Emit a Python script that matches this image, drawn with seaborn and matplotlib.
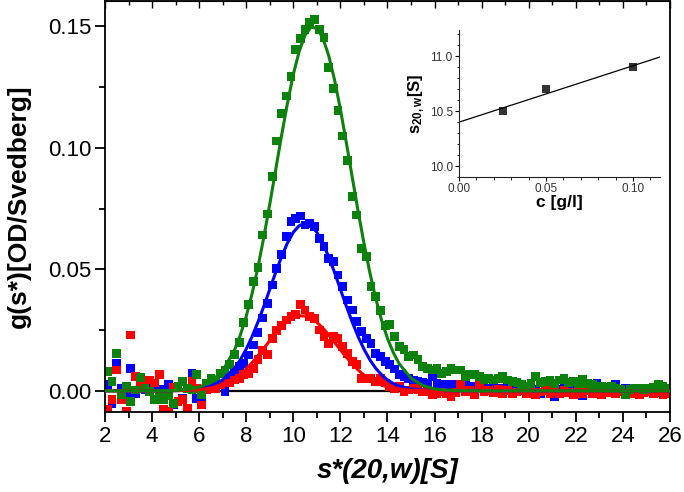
import numpy as np
import pandas as pd
import matplotlib
matplotlib.use("Agg")
import matplotlib.pyplot as plt
from matplotlib.ticker import MultipleLocator, AutoMinorLocator, FormatStrFormatter
import seaborn as sns

# s* grid of the measured g(s*) points
s_grid = [
    2.1, 2.3, 2.5, 2.7, 2.9, 3.1, 3.3, 3.5, 3.7, 3.9,
    4.1, 4.3, 4.5, 4.7, 4.9, 5.1, 5.3, 5.5, 5.7, 5.9,
    6.1, 6.3, 6.5, 6.7, 6.9, 7.1, 7.3, 7.5, 7.7, 7.9,
    8.1, 8.3, 8.5, 8.7, 8.9, 9.1, 9.3, 9.5, 9.7, 9.9,
    10.1, 10.3, 10.5, 10.7, 10.9, 11.1, 11.3, 11.5, 11.7, 11.9,
    12.1, 12.3, 12.5, 12.7, 12.9, 13.1, 13.3, 13.5, 13.7, 13.9,
    14.1, 14.3, 14.5, 14.7, 14.9, 15.1, 15.3, 15.5, 15.7, 15.9,
    16.1, 16.3, 16.5, 16.7, 16.9, 17.1, 17.3, 17.5, 17.7, 17.9,
    18.1, 18.3, 18.5, 18.7, 18.9, 19.1, 19.3, 19.5, 19.7, 19.9,
    20.1, 20.3, 20.5, 20.7, 20.9, 21.1, 21.3, 21.5, 21.7, 21.9,
    22.1, 22.3, 22.5, 22.7, 22.9, 23.1, 23.3, 23.5, 23.7, 23.9,
    24.1, 24.3, 24.5, 24.7, 24.9, 25.1, 25.3, 25.5, 25.7, 25.9,
]

g_green = [
    0.0079, 0.0040, 0.0155, -0.0016, 0.0020, -0.0044, 0.0004, 0.0056, 0.0012, -0.0003,
    -0.0037, -0.0012, -0.0037, -0.0020, -0.0051, 0.0018, 0.0038, 0.0010, 0.0004, 0.0066,
    -0.0016, 0.0030, 0.0052, 0.0045, 0.0070, 0.0086, 0.0107, 0.0150, 0.0200, 0.0280,
    0.0354, 0.0450, 0.0509, 0.0642, 0.0728, 0.0882, 0.1029, 0.1143, 0.1214, 0.1293,
    0.1406, 0.1451, 0.1488, 0.1516, 0.1530, 0.1486, 0.1456, 0.1332, 0.1246, 0.1153,
    0.1049, 0.0948, 0.0800, 0.0724, 0.0587, 0.0553, 0.0429, 0.0388, 0.0330, 0.0270,
    0.0272, 0.0223, 0.0182, 0.0169, 0.0141, 0.0148, 0.0128, 0.0100, 0.0093, 0.0086,
    0.0093, 0.0073, 0.0080, 0.0093, 0.0086, 0.0086, 0.0059, 0.0066, 0.0066, 0.0059,
    0.0045, 0.0052, 0.0045, 0.0052, 0.0060, 0.0045, 0.0040, 0.0035, 0.0025, 0.0020,
    0.0030, 0.0059, 0.0035, 0.0040, 0.0045, 0.0030, 0.0045, 0.0052, 0.0035, 0.0038,
    0.0030, 0.0048, 0.0030, 0.0025, 0.0020, 0.0018, 0.0015, 0.0020, 0.0012, 0.0008,
    -0.0016, 0.0005, 0.0012, 0.0012, 0.0005, 0.0010, 0.0015, 0.0025, 0.0018, 0.0012,
]

g_blue = [
    0.0025, -0.0051, 0.0114, 0.0010, -0.0023, 0.0093, -0.0010, 0.0020, 0.0004, 0.0018,
    0.0018, 0.0005, -0.0020, 0.0025, -0.0058, -0.0044, -0.0030, 0.0010, 0.0073, -0.0030,
    -0.0037, 0.0010, 0.0020, 0.0030, 0.0025, -0.0003, 0.0059, 0.0079, 0.0100, 0.0114,
    0.0148, 0.0189, 0.0240, 0.0300, 0.0360, 0.0436, 0.0505, 0.0560, 0.0635, 0.0697,
    0.0711, 0.0720, 0.0683, 0.0690, 0.0676, 0.0628, 0.0594, 0.0546, 0.0532, 0.0477,
    0.0429, 0.0374, 0.0333, 0.0285, 0.0244, 0.0217, 0.0196, 0.0155, 0.0141, 0.0120,
    0.0107, 0.0090, 0.0066, 0.0060, 0.0052, 0.0045, 0.0040, 0.0035, 0.0030, 0.0059,
    0.0030, 0.0028, 0.0025, 0.0020, 0.0025, 0.0018, 0.0022, 0.0015, 0.0020, 0.0012,
    0.0018, 0.0010, 0.0015, 0.0008, 0.0012, 0.0018, 0.0005, 0.0010, 0.0002, 0.0008,
    0.0010, 0.0005, -0.0010, 0.0008, 0.0012, -0.0023, 0.0005, 0.0010, 0.0030, 0.0008,
    0.0005, -0.0020, 0.0010, 0.0002, 0.0030, 0.0008, 0.0012, 0.0005, 0.0025, 0.0008,
    0.0010, -0.0005, 0.0008, 0.0012, 0.0003, 0.0010, 0.0005, -0.0008, 0.0010, 0.0005,
]

g_red = [
    -0.0078, -0.0037, 0.0086, -0.0037, -0.0085, 0.0230, 0.0059, 0.0025, 0.0045, 0.0045,
    0.0032, 0.0066, -0.0078, -0.0085, 0.0015, -0.0044, -0.0037, -0.0071, 0.0038, 0.0010,
    -0.0058, 0.0005, 0.0018, 0.0010, 0.0025, 0.0032, 0.0032, 0.0045, 0.0052, 0.0066,
    0.0073, 0.0093, 0.0128, 0.0165, 0.0150, 0.0215, 0.0250, 0.0270, 0.0292, 0.0306,
    0.0313, 0.0354, 0.0333, 0.0306, 0.0299, 0.0251, 0.0223, 0.0196, 0.0223, 0.0215,
    0.0182, 0.0155, 0.0121, 0.0107, 0.0052, 0.0052, 0.0052, 0.0038, 0.0052, 0.0032,
    0.0018, 0.0010, 0.0018, -0.0003, 0.0004, 0.0011, 0.0005, -0.0005, -0.0003, -0.0016,
    -0.0010, -0.0005, -0.0012, -0.0023, -0.0008, 0.0025, -0.0005, 0.0000, -0.0016, 0.0025,
    -0.0005, 0.0000, -0.0008, 0.0005, -0.0010, 0.0000, -0.0012, -0.0005, 0.0005, -0.0010,
    -0.0008, -0.0016, -0.0005, 0.0000, -0.0010, -0.0005, -0.0012, 0.0002, -0.0008, -0.0015,
    -0.0005, -0.0010, 0.0000, -0.0012, -0.0005, -0.0016, -0.0008, -0.0002, -0.0010, -0.0005,
    -0.0012, -0.0005, -0.0010, -0.0016, -0.0008, -0.0003, -0.0012, -0.0005, -0.0016, -0.0010,
]

# fitted curves
fit_s = [
    2.0, 3.0, 4.0, 5.0, 5.5, 6.0, 6.5, 7.0, 7.5, 7.75,
    8.0, 8.25, 8.5, 8.75, 9.0, 9.25, 9.5, 9.75, 10.0, 10.25,
    10.5, 10.75, 11.0, 11.25, 11.5, 11.75, 12.0, 12.25, 12.5, 12.75,
    13.0, 13.25, 13.5, 13.75, 14.0, 14.25, 14.5, 15.0, 15.5, 16.0,
    16.5, 17.0, 18.0, 20.0, 22.0, 24.0, 26.0,
]
fit_green = [
    0.0, 0.0, 0.0, 0.0002, 0.0006, 0.0015, 0.0037, 0.0083, 0.0168, 0.0230,
    0.0307, 0.0401, 0.0510, 0.0634, 0.0769, 0.0910, 0.1051, 0.1184, 0.1303, 0.1398,
    0.1465, 0.1497, 0.1493, 0.1454, 0.1381, 0.1281, 0.1159, 0.1023, 0.0881, 0.0741,
    0.0608, 0.0487, 0.0381, 0.0290, 0.0216, 0.0157, 0.0111, 0.0052, 0.0022, 0.0008,
    0.0003, 0.0001, 0.0, 0.0, 0.0, 0.0, 0.0,
]
fit_blue = [
    0.0, 0.0, 0.0, 0.0001, 0.0003, 0.0008, 0.0020, 0.0045, 0.0093, 0.0128,
    0.0172, 0.0224, 0.0284, 0.0349, 0.0418, 0.0488, 0.0552, 0.0609, 0.0653, 0.0680,
    0.0690, 0.0680, 0.0653, 0.0609, 0.0552, 0.0488, 0.0418, 0.0349, 0.0284, 0.0224,
    0.0172, 0.0128, 0.0093, 0.0066, 0.0045, 0.0030, 0.0020, 0.0008, 0.0003, 0.0001,
    0.0, 0.0, 0.0, 0.0, 0.0, 0.0, 0.0,
]
fit_red = [
    0.0, 0.0, 0.0, 0.0001, 0.0002, 0.0005, 0.0012, 0.0026, 0.0051, 0.0069,
    0.0091, 0.0116, 0.0145, 0.0175, 0.0207, 0.0237, 0.0264, 0.0286, 0.0302, 0.0309,
    0.0308, 0.0299, 0.0282, 0.0259, 0.0231, 0.0200, 0.0169, 0.0139, 0.0111, 0.0086,
    0.0065, 0.0048, 0.0034, 0.0024, 0.0016, 0.0011, 0.0007, 0.0003, 0.0001, 0.0,
    0.0, 0.0, 0.0, 0.0, 0.0, 0.0, 0.0,
]

# inset: s20,w versus concentration
conc = [0.025, 0.05, 0.10]
s20w = [10.5, 10.7, 10.9]

colors = {"blue": "#0000ff", "red": "#ff0000", "green": "#0c820c"}

sns.set_style("ticks")
plt.rcParams["font.family"] = ["Liberation Sans", "DejaVu Sans"]
plt.rcParams["mathtext.fontset"] = "custom"
plt.rcParams["mathtext.rm"] = "Liberation Sans"
plt.rcParams["mathtext.bf"] = "Liberation Sans:bold"
plt.rcParams["text.color"] = "black"
plt.rcParams["axes.labelcolor"] = "black"
plt.rcParams["xtick.color"] = "black"
plt.rcParams["ytick.color"] = "black"

n = len(s_grid)
points = pd.DataFrame({
    "s": s_grid * 3,
    "g": g_blue + g_red + g_green,
    "run": ["blue"] * n + ["red"] * n + ["green"] * n,
})
m = len(fit_s)
fits = pd.DataFrame({
    "s": fit_s * 3,
    "g": fit_blue + fit_red + fit_green,
    "run": ["blue"] * m + ["red"] * m + ["green"] * m,
})

fig = plt.figure(figsize=(6.84, 4.92), dpi=100)
ax = fig.add_axes([0.1535, 0.1626, 0.826, 0.8354])

ax.axhline(0, color="black", linewidth=1.6, zorder=1)
sns.scatterplot(data=points, x="s", y="g", hue="run", palette=colors,
                marker="s", s=40, linewidth=0, legend=False, ax=ax, zorder=2)
sns.lineplot(data=fits, x="s", y="g", hue="run", palette=colors,
             hue_order=["blue", "red", "green"], linewidth=2.2,
             errorbar=None, legend=False, ax=ax, zorder=3)

ax.set_xlim(2, 26)
ax.set_ylim(-0.0087, 0.1605)
ax.set_xticks(range(2, 27, 2))
ax.xaxis.set_minor_locator(MultipleLocator(1))
ax.set_yticks([0.0, 0.05, 0.10, 0.15])
ax.yaxis.set_minor_locator(MultipleLocator(0.025))
ax.yaxis.set_major_formatter(FormatStrFormatter("%.2f"))
ax.tick_params(which="major", direction="out", length=7, width=1.3,
               labelsize=16, pad=3, colors="black")
ax.tick_params(which="minor", direction="out", length=4, width=1.3)
for sp in ax.spines.values():
    sp.set_linewidth(1.3)
    sp.set_color("black")

top = ax.secondary_xaxis("top")
top.set_xticks(range(2, 27, 2))
top.xaxis.set_minor_locator(MultipleLocator(1))
top.tick_params(which="both", direction="in", labeltop=False, width=1.0)
top.tick_params(which="major", length=5)
top.tick_params(which="minor", length=3)

ax.set_xlabel("s*(20,w)[S]", fontsize=20, fontweight="bold", style="italic", labelpad=8)
ax.set_ylabel("g(s*)[OD/Svedberg]", fontsize=19, fontweight="bold", labelpad=12)

# inset
ins = fig.add_axes([459 / 684, 1 - 177 / 492, 201 / 684, 147 / 492])
ins.set_xlim(0, 0.1155)
ins.set_ylim(9.9, 11.24)
sns.regplot(x=conc, y=s20w, ci=None, truncate=False, marker="s", color="black",
            scatter_kws={"s": 28, "linewidths": 0},
            line_kws={"linewidth": 0.9}, ax=ins)
ins.set_xlim(0, 0.1155)
ins.set_ylim(9.9, 11.24)
sns.despine(ax=ins)
ins.set_xticks([0.0, 0.05, 0.10])
ins.xaxis.set_major_formatter(FormatStrFormatter("%.2f"))
ins.xaxis.set_minor_locator(AutoMinorLocator(5))
ins.set_yticks([10.0, 10.5, 11.0])
ins.yaxis.set_major_formatter(FormatStrFormatter("%.1f"))
ins.yaxis.set_minor_locator(MultipleLocator(0.1))
ins.tick_params(which="major", direction="out", length=3, width=0.8,
                labelsize=8.5, pad=1.5, labelcolor="#333333")
ins.tick_params(which="minor", direction="out", length=1.8, width=0.6)
for sp in ins.spines.values():
    sp.set_linewidth(0.8)
    sp.set_color("#222222")
ins.set_xlabel("c [g/l]", fontsize=12.5, fontweight="bold", labelpad=0)
ins.set_ylabel(r"$\mathbf{s_{20,w}}$[S]", fontsize=12, fontweight="bold", labelpad=2)

fig.savefig("out.png", dpi=100)
